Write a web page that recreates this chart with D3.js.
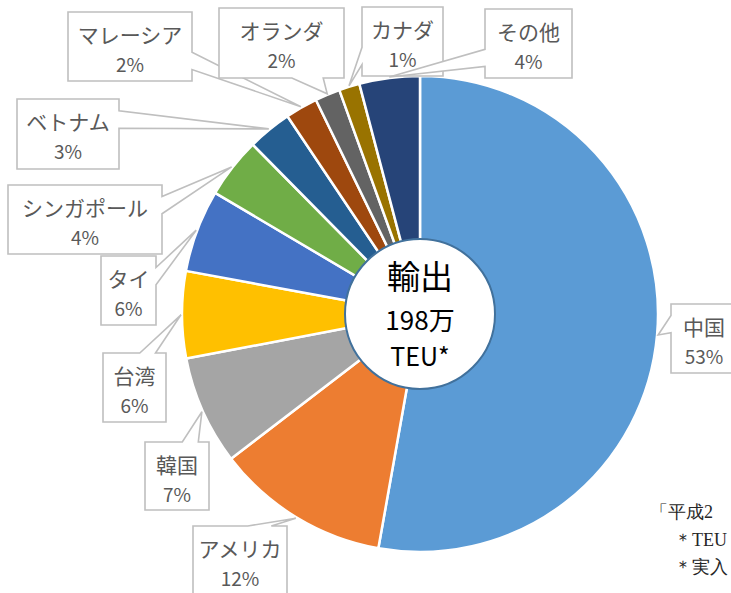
<!DOCTYPE html>
<html>
<head>
<meta charset="utf-8">
<script src="https://cdn.jsdelivr.net/npm/d3@7"></script>
<style>
  html, body { margin: 0; padding: 0; background: #fff; overflow: hidden; }
  svg { display: block; }
</style>
</head>
<body>
<svg id="chart" width="731" height="593"></svg>
<script>
// ---- data ----
const categories = ["中国","アメリカ","韓国","台湾","タイ","シンガポール","ベトナム","マレーシア","オランダ","カナダ","その他"];
const shares = [52.8, 11.8, 7.4, 5.9, 5.6, 4.1, 3.0, 2.2, 1.7, 1.4, 4.1];
const centerLines = ["輸出", "198万", "TEU*"];
const noteLines = ["「平成2", "＊TEU", "＊実入"];

// ---- style / layout ----
const colors = ["#5B9BD5","#ED7D31","#A5A5A5","#FFC000","#4472C4","#70AD47","#255E91","#9E480E","#636363","#997300","#264478"];
// label box layout [x, y, w, h]
const labelBoxes = [
  [671, 304, 66, 69],
  [193, 526, 94, 69],
  [145, 442, 64, 68],
  [103, 353, 63, 69],
  [101, 256, 55, 69],
  [8, 185, 154, 69],
  [17, 99, 102, 70],
  [68, 12, 124, 69],
  [219, 8, 125, 70],
  [362, 7, 81, 69],
  [485, 9, 87, 69]
];

const W = 731, H = 593;
const cx = 420, cy = 314, R = 238, innerR = 75;
const svg = d3.select("#chart");

const total = d3.sum(shares);
const pie = d3.pie().sort(null).value(d => d).startAngle(0).endAngle(2 * Math.PI);
const arcs = pie(shares);
const arc = d3.arc().innerRadius(0).outerRadius(R);

const g = svg.append("g").attr("transform", `translate(${cx},${cy})`);
g.selectAll("path.slice").data(arcs).join("path")
  .attr("class", "slice")
  .attr("d", arc)
  .attr("fill", (d, i) => colors[i])
  .attr("stroke", "#fff")
  .attr("stroke-width", 2.5)
  .attr("stroke-linejoin", "round");

// center circle
g.append("circle").attr("r", innerR).attr("fill", "#fff")
  .attr("stroke", "#41719C").attr("stroke-width", 2);
const centerY = [-39, 4, 41];
const centerSize = [33, 26, 25];
centerLines.forEach((t, i) => {
  g.append("text").attr("x", 0).attr("y", centerY[i])
    .attr("text-anchor", "middle").attr("dominant-baseline", "central")
    .attr("font-family", "'Noto Sans CJK JP', 'Noto Sans', sans-serif")
    .attr("font-size", centerSize[i]).attr("fill", "#000").text(t);
});

// callout path (wedge rectangle callout)
function calloutPath(x0, y0, w, h, tx, ty) {
  const x1 = x0 + w, y1 = y0 + h;
  const mx = x0 + w / 2, my = y0 + h / 2;
  const dx = tx - mx, dy = ty - my;
  const horiz = Math.abs(dx) / w > Math.abs(dy) / h;
  const pts = [];
  pts.push([x0, y0]);
  if (!horiz && dy < 0) {
    const xa = x0 + w * (dx > 0 ? 7 : 2) / 12, xb = x0 + w * (dx > 0 ? 10 : 5) / 12;
    pts.push([xa, y0], [tx, ty], [xb, y0]);
  }
  pts.push([x1, y0]);
  if (horiz && dx > 0) {
    const ya = y0 + h * (dy > 0 ? 7 : 2) / 12, yb = y0 + h * (dy > 0 ? 10 : 5) / 12;
    pts.push([x1, ya], [tx, ty], [x1, yb]);
  }
  pts.push([x1, y1]);
  if (!horiz && dy > 0) {
    const xa = x0 + w * (dx > 0 ? 7 : 2) / 12, xb = x0 + w * (dx > 0 ? 10 : 5) / 12;
    pts.push([xb, y1], [tx, ty], [xa, y1]);
  }
  pts.push([x0, y1]);
  if (horiz && dx < 0) {
    const ya = y0 + h * (dy > 0 ? 7 : 2) / 12, yb = y0 + h * (dy > 0 ? 10 : 5) / 12;
    pts.push([x0, yb], [tx, ty], [x0, ya]);
  }
  return "M" + pts.map(p => p[0].toFixed(1) + "," + p[1].toFixed(1)).join("L") + "Z";
}

const labels = svg.append("g");
arcs.forEach((a, i) => {
  const mid = (a.startAngle + a.endAngle) / 2;
  const tx = cx + (R + 1) * Math.sin(mid), ty = cy - (R + 1) * Math.cos(mid);
  const [bx, by, bw, bh] = labelBoxes[i];
  labels.append("path").attr("d", calloutPath(bx, by, bw, bh, tx, ty))
    .attr("fill", "#fff").attr("stroke", "#BFBFBF").attr("stroke-width", 1.6)
    .attr("stroke-linejoin", "miter");
  const pct = Math.round(shares[i] / total * 100) + "%";
  labels.append("text").attr("x", bx + bw / 2).attr("y", by + 22)
    .attr("text-anchor", "middle").attr("dominant-baseline", "central")
    .attr("font-family", "'Noto Sans CJK JP', 'Noto Sans', sans-serif")
    .attr("font-size", 21).attr("fill", "#595959").text(categories[i]);
  labels.append("text").attr("x", bx + bw / 2).attr("y", by + 51)
    .attr("text-anchor", "middle").attr("dominant-baseline", "central")
    .attr("font-family", "'Noto Sans CJK JP', 'Noto Sans', sans-serif")
    .attr("font-size", 19).attr("fill", "#595959").text(pct);
});

// footnote (partly visible at right edge)
const noteX = [650, 674, 674];
const noteY = [512, 540, 567];
noteLines.forEach((t, i) => {
  svg.append("text").attr("x", noteX[i]).attr("y", noteY[i])
    .attr("dominant-baseline", "central")
    .attr("font-family", "'Liberation Serif', 'DejaVu Serif', serif")
    .attr("font-size", 18).attr("fill", "#262626").text(t);
});
</script>
</body>
</html>
